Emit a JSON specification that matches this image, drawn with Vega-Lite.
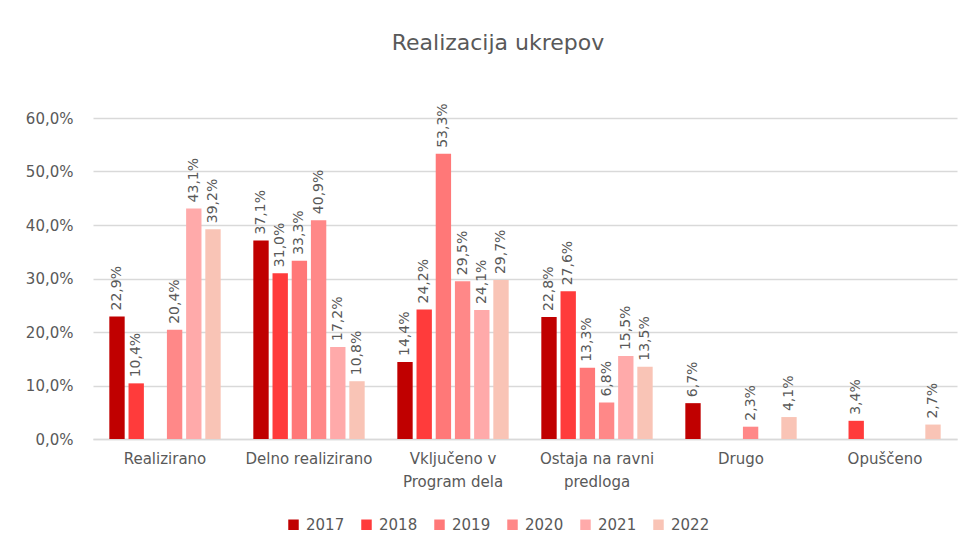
{
  "$schema": "https://vega.github.io/schema/vega-lite/v6.json",
  "width": 864,
  "height": 321,
  "autosize": "none",
  "padding": {"left": 93, "top": 118, "right": 10, "bottom": 105},
  "background": "white",
  "title": {"text": "Realizacija ukrepov", "fontSize": 22, "font": "DejaVu Sans", "fontWeight": "normal", "color": "#595959", "offset": 48, "dx": -27},
  "config": {
    "locale": {"number": {"decimal": ",", "thousands": ".", "grouping": [3], "currency": ["", " €"]}},
    "view": {"stroke": null},
    "font": "DejaVu Sans"
  },
  "data": {"values": [
    {"kat": "Realizirano", "leto": "2017", "v": 0.229},
    {"kat": "Realizirano", "leto": "2018", "v": 0.104},
    {"kat": "Realizirano", "leto": "2020", "v": 0.204},
    {"kat": "Realizirano", "leto": "2021", "v": 0.431},
    {"kat": "Realizirano", "leto": "2022", "v": 0.392},
    {"kat": "Delno realizirano", "leto": "2017", "v": 0.371},
    {"kat": "Delno realizirano", "leto": "2018", "v": 0.310},
    {"kat": "Delno realizirano", "leto": "2019", "v": 0.333},
    {"kat": "Delno realizirano", "leto": "2020", "v": 0.409},
    {"kat": "Delno realizirano", "leto": "2021", "v": 0.172},
    {"kat": "Delno realizirano", "leto": "2022", "v": 0.108},
    {"kat": "Vključeno v Program dela", "leto": "2017", "v": 0.144},
    {"kat": "Vključeno v Program dela", "leto": "2018", "v": 0.242},
    {"kat": "Vključeno v Program dela", "leto": "2019", "v": 0.533},
    {"kat": "Vključeno v Program dela", "leto": "2020", "v": 0.295},
    {"kat": "Vključeno v Program dela", "leto": "2021", "v": 0.241},
    {"kat": "Vključeno v Program dela", "leto": "2022", "v": 0.297},
    {"kat": "Ostaja na ravni predloga", "leto": "2017", "v": 0.228},
    {"kat": "Ostaja na ravni predloga", "leto": "2018", "v": 0.276},
    {"kat": "Ostaja na ravni predloga", "leto": "2019", "v": 0.133},
    {"kat": "Ostaja na ravni predloga", "leto": "2020", "v": 0.068},
    {"kat": "Ostaja na ravni predloga", "leto": "2021", "v": 0.155},
    {"kat": "Ostaja na ravni predloga", "leto": "2022", "v": 0.135},
    {"kat": "Drugo", "leto": "2017", "v": 0.067},
    {"kat": "Drugo", "leto": "2020", "v": 0.023},
    {"kat": "Drugo", "leto": "2022", "v": 0.041},
    {"kat": "Opuščeno", "leto": "2018", "v": 0.034},
    {"kat": "Opuščeno", "leto": "2022", "v": 0.027}
  ]},
  "encoding": {
    "x": {
      "field": "kat", "type": "nominal",
      "sort": ["Realizirano", "Delno realizirano", "Vključeno v Program dela", "Ostaja na ravni predloga", "Drugo", "Opuščeno"],
      "scale": {"paddingInner": 0.2, "paddingOuter": 0.1},
      "axis": {
        "title": null, "labelAngle": 0, "ticks": false,
        "domainColor": "#D9D9D9", "domainWidth": 1.5,
        "labelColor": "#595959", "labelFontSize": 15, "labelPadding": 12, "labelLineHeight": 23,
        "labelExpr": "datum.label == 'Vključeno v Program dela' ? ['Vključeno v', 'Program dela'] : datum.label == 'Ostaja na ravni predloga' ? ['Ostaja na ravni', 'predloga'] : datum.label"
      }
    },
    "xOffset": {
      "field": "leto", "type": "nominal",
      "scale": {"domain": ["2017", "2018", "2019", "2020", "2021", "2022"], "paddingInner": 0.2, "paddingOuter": 0.1}
    },
    "y": {
      "field": "v", "type": "quantitative",
      "scale": {"domain": [0, 0.6], "nice": false},
      "axis": {
        "title": null, "format": ".1%", "values": [0, 0.1, 0.2, 0.3, 0.4, 0.5, 0.6], "labelOverlap": false,
        "domain": false, "ticks": false, "gridColor": "#D9D9D9", "gridWidth": 1.5,
        "labelColor": "#595959", "labelFontSize": 15, "labelPadding": 20
      }
    }
  },
  "layer": [
    {
      "mark": {"type": "bar"},
      "encoding": {
        "color": {
          "field": "leto", "type": "nominal",
          "scale": {"domain": ["2017", "2018", "2019", "2020", "2021", "2022"], "range": ["#C00000", "#FF3B3B", "#FF7878", "#FF8888", "#FFAAAA", "#F9C4B6"]},
          "legend": {
            "title": null, "orient": "none", "direction": "horizontal", "legendX": 193, "legendY": 399,
            "symbolType": "square", "symbolSize": 110, "symbolStrokeWidth": 0, "symbolOpacity": 1,
            "labelFontSize": 15, "labelColor": "#595959", "columnPadding": 14, "labelOffset": 5
          }
        }
      }
    },
    {
      "mark": {"type": "text", "angle": 270, "align": "left", "baseline": "middle", "dx": 6, "fontSize": 14, "color": "#595959"},
      "encoding": {
        "text": {"field": "v", "type": "quantitative", "format": ".1%"}
      }
    }
  ]
}
